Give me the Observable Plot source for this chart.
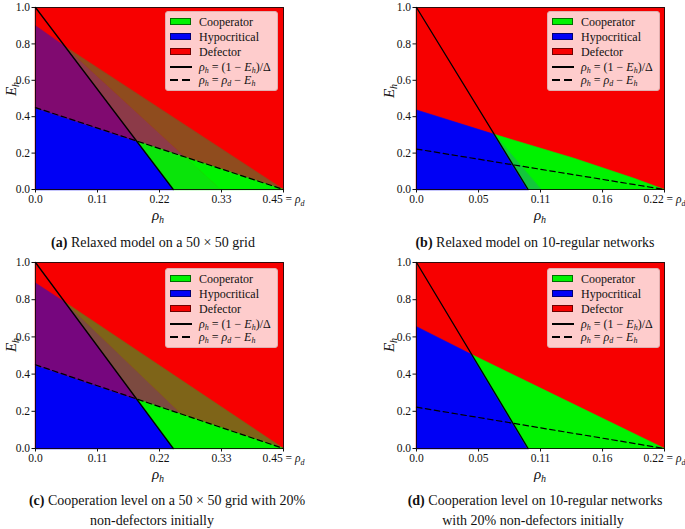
<!DOCTYPE html>
<html><head><meta charset="utf-8">
<script src="https://cdn.jsdelivr.net/npm/d3@7"></script>
<script src="https://cdn.jsdelivr.net/npm/@observablehq/plot@0.6"></script>
<style>
body{margin:0;background:#fff;font-family:"Liberation Serif","Times New Roman","DejaVu Serif",serif;color:#111}
#fig{position:relative;width:685px;height:529px;overflow:hidden;background:#fff;font-family:"Liberation Serif","Times New Roman","DejaVu Serif",serif}
.panel{position:absolute}
.ov{position:absolute;transform:translate(-50%,-50%);white-space:nowrap}
.axl{font-size:15px}
.axl sub{font-size:10px;vertical-align:-3px;line-height:0}
.legend{position:absolute;background:rgba(255,255,255,0.8);border:1px solid #e0b0b0;border-radius:3px;font-size:12px;box-sizing:border-box}
.row{position:absolute;left:0;height:14px;line-height:14px;width:100%}
.sw{position:absolute;left:4px;top:3.5px;width:21px;height:7px;box-sizing:border-box;border:1px solid rgba(0,0,0,0.55)}
.ln{position:absolute;left:4px;top:6px;width:22px;height:2px;background:#000}
.ln.d{background:repeating-linear-gradient(90deg,#000 0 8px,transparent 8px 12px)}
.lt{position:absolute;left:33px;top:0}
.lt sub{font-size:8px;vertical-align:-2px;line-height:0}
.cap{font-size:14px}
</style></head>
<body><div id="fig"></div>
<script>
// colours
const RED = "#f70000", BLUE = "#0000f5", GREEN = "#00f200";
const SERIF = "'Liberation Serif', 'Times New Roman', 'DejaVu Serif', serif";

// axis ticks
const yTicks = [0, 0.2, 0.4, 0.6, 0.8, 1.0];
const yTickLabels = ["0.0", "0.2", "0.4", "0.6", "0.8", "1.0"];
const xTicksGrid = [0, 0.1125, 0.225, 0.3375, 0.45];
const xTickLabelsGrid = ["0.0", "0.11", "0.22", "0.33", "0.45 ="];
const xTicksReg = [0, 0.0556, 0.1111, 0.1667, 0.2222];
const xTickLabelsReg = ["0.0", "0.05", "0.11", "0.16", "0.22 ="];

// reference lines  [rho_h, E_h]
const solidGrid = [[0, 1], [0.25, 0]];
const dashedGrid = [[0, 0.45], [0.45, 0]];
const solidReg = [[0, 1], [0.1, 0]];
const dashedReg = [[0, 0.2222], [0.2222, 0]];

// panel (a) regions
const aDefector = [[0, 0], [0.45, 0], [0.45, 1], [0, 1]];
const aBlue = [[0, 0], [0, 0.45], [0.1833, 0.2667], [0.25, 0]];
const aPurple = [[0, 0.45], [0, 0.9], [0.054, 0.785], [0.1833, 0.2667]];
const aMauve = [[0.054, 0.785], [0.1833, 0.2667], [0.2717, 0.1783]];
const aBrown = [[0.054, 0.785], [0.2717, 0.1783], [0.45, 0]];
const aGreenDark = [[0.25, 0], [0.1833, 0.2667], [0.2717, 0.1783], [0.336, 0]];
const aGreenLight = [[0.336, 0], [0.2717, 0.1783], [0.45, 0]];

// panel (b) regions
const bDefector = [[0, 0], [0.2222, 0], [0.2222, 1], [0, 1]];
const bBlue = [[0, 0], [0, 0.437], [0.0697, 0.303], [0.1, 0]];
const bGreen = [[0.0697, 0.303], [0.141, 0.172], [0.1947, 0.062], [0.2222, 0], [0.1, 0]];
const bGreenDark = [[0.0697, 0.303], [0.1, 0], [0.1115, 0]];

// panel (c) regions
const cDefector = [[0, 0], [0.45, 0], [0.45, 1], [0, 1]];
const cBlue = [[0, 0], [0, 0.45], [0.1833, 0.2667], [0.25, 0]];
const cPurple = [[0, 0.45], [0, 0.89], [0.054, 0.785], [0.1833, 0.2667]];
const cDarkBrown = [[0.054, 0.785], [0.1833, 0.2667], [0.265, 0.185]];
const cOlive = [[0.054, 0.785], [0.265, 0.185], [0.45, 0]];
const cGreen = [[0.25, 0], [0.1833, 0.2667], [0.45, 0]];

// panel (d) regions
const dDefector = [[0, 0], [0.2222, 0], [0.2222, 1], [0, 1]];
const dBlue = [[0, 0], [0, 0.655], [0.0495, 0.505], [0.1, 0]];
const dGreen = [[0.0495, 0.505], [0.2222, 0], [0.1, 0]];

const captions = {
  a: ["<b>(a)</b> Relaxed model on a 50 × 50 grid"],
  b: ["<b>(b)</b> Relaxed model on 10-regular networks"],
  c: ["<b>(c)</b> Cooperation level on a 50 × 50 grid with 20%", "non-defectors initially"],
  d: ["<b>(d)</b> Cooperation level on 10-regular networks", "with 20% non-defectors initially"]
};

const fig = document.getElementById("fig");

function makePanel(p) {
  const marks = p.regions.map(r => Plot.line(r[0], {
    x: d => d[0], y: d => d[1], fill: r[1], stroke: r[1], strokeWidth: 0.6, curve: "linear-closed"
  }));
  marks.push(Plot.line(p.solid, {x: d => d[0], y: d => d[1], stroke: "black", strokeWidth: 1.3}));
  marks.push(Plot.line(p.dashed, {x: d => d[0], y: d => d[1], stroke: "black", strokeWidth: 1.2, strokeDasharray: "5.5,3.5"}));
  marks.push(Plot.frame({stroke: "black", strokeWidth: 0.8}));
  marks.push(Plot.axisX({ticks: p.xTicks, tickFormat: d => p.xLabels[p.xTicks.indexOf(d)], tickSize: 3.5, tickPadding: 1.5, label: null, fontFamily: SERIF}));
  marks.push(Plot.axisY({ticks: yTicks, tickFormat: d => yTickLabels[yTicks.indexOf(d)], tickSize: 3.5, tickPadding: 2, label: null, fontFamily: SERIF}));
  const svg = Plot.plot({
    width: p.width, height: 230,
    marginLeft: p.ml, marginRight: p.mr, marginTop: p.mt, marginBottom: p.mb,
    x: {domain: p.xDomain}, y: {domain: [0, 1]},
    style: {fontFamily: SERIF, fontSize: "11.5px", background: "transparent", color: "#111", overflow: "visible"},
    marks
  });
  d3.select(svg).selectAll('g[aria-label="x-axis tick label"] text').each(function () {
    if (this.textContent.trim().endsWith("=")) {
      const t = this.textContent.trim();
      this.textContent = t + " ";
      d3.select(this).append("tspan").attr("font-style", "italic").text("ρ");
      d3.select(this).append("tspan").attr("font-style", "italic").attr("font-size", "8px").attr("dy", "3").text("d");
    }
  });
  const div = document.createElement("div");
  div.className = "panel";
  div.style.left = p.left + "px";
  div.style.top = p.top + "px";
  div.appendChild(svg);
  fig.appendChild(div);

  // axis labels
  const yl = document.createElement("div");
  yl.className = "ov axl";
  yl.style.left = p.ylab[0] + "px"; yl.style.top = p.ylab[1] + "px";
  yl.style.transform = "translate(-50%,-50%) rotate(-90deg)";
  yl.innerHTML = "<i>E</i><sub><i>h</i></sub>";
  fig.appendChild(yl);
  const xl = document.createElement("div");
  xl.className = "ov axl";
  xl.style.left = p.xlab[0] + "px"; xl.style.top = p.xlab[1] + "px";
  xl.innerHTML = "<i>ρ</i><sub><i>h</i></sub>";
  fig.appendChild(xl);

  // legend
  const lg = document.createElement("div");
  lg.className = "legend";
  lg.style.left = p.leg[0] + "px"; lg.style.top = p.leg[1] + "px";
  lg.style.width = "113px"; lg.style.height = "80px";
  const rows = [
    [`<div class="sw" style="background:${GREEN}"></div>`, "Cooperator"],
    [`<div class="sw" style="background:${BLUE}"></div>`, "Hypocritical"],
    [`<div class="sw" style="background:${RED}"></div>`, "Defector"],
    [`<div class="ln"></div>`, "<i>ρ</i><sub><i>h</i></sub> = (1 − <i>E</i><sub><i>h</i></sub>)/Δ"],
    [`<div class="ln d"></div>`, "<i>ρ</i><sub><i>h</i></sub> = <i>ρ</i><sub><i>d</i></sub> − <i>E</i><sub><i>h</i></sub>"]
  ];
  const rowTops = [2.5, 17.5, 32.5, 47.5, 61];
  rows.forEach((r, i) => {
    const rw = document.createElement("div");
    rw.className = "row";
    rw.style.top = rowTops[i] + "px";
    rw.innerHTML = r[0] + `<div class="lt">${r[1]}</div>`;
    lg.appendChild(rw);
  });
  fig.appendChild(lg);

  // caption
  p.cap.forEach((line, i) => {
    const c = document.createElement("div");
    c.className = "ov cap";
    c.style.left = p.capPos[i][0] + "px"; c.style.top = p.capPos[i][1] + "px";
    c.innerHTML = line;
    fig.appendChild(c);
  });
}

makePanel({
  left: 0, top: 0, width: 340, ml: 35, mr: 57, mt: 7, mb: 41,
  xDomain: [0, 0.45], xTicks: xTicksGrid, xLabels: xTickLabelsGrid,
  regions: [[aDefector, RED], [aBlue, BLUE], [aPurple, "#800a70"], [aMauve, "#8c3a48"], [aBrown, "#8f4c1e"], [aGreenDark, "#0ae40a"], [aGreenLight, GREEN]],
  solid: solidGrid, dashed: dashedGrid,
  ylab: [11, 89], xlab: [158, 215], leg: [165, 11],
  cap: captions.a, capPos: [[153, 243]]
});
makePanel({
  left: 340, top: 0, width: 345, ml: 76, mr: 21, mt: 7, mb: 41,
  xDomain: [0, 0.2222], xTicks: xTicksReg, xLabels: xTickLabelsReg,
  regions: [[bDefector, RED], [bBlue, BLUE], [bGreen, GREEN], [bGreenDark, "#14c63c"]],
  solid: solidReg, dashed: dashedReg,
  ylab: [389, 91], xlab: [540, 215], leg: [547, 11],
  cap: captions.b, capPos: [[535, 243]]
});
makePanel({
  left: 0, top: 255, width: 340, ml: 35, mr: 57, mt: 7, mb: 37,
  xDomain: [0, 0.45], xTicks: xTicksGrid, xLabels: xTickLabelsGrid,
  regions: [[cDefector, RED], [cBlue, BLUE], [cPurple, "#76067e"], [cDarkBrown, "#7c4a40"], [cOlive, "#7e6418"], [cGreen, GREEN]],
  solid: solidGrid, dashed: dashedGrid,
  ylab: [11, 345], xlab: [158, 474], leg: [165, 268],
  cap: captions.c, capPos: [[167, 501], [152, 521]]
});
makePanel({
  left: 340, top: 255, width: 345, ml: 76, mr: 21, mt: 7, mb: 37,
  xDomain: [0, 0.2222], xTicks: xTicksReg, xLabels: xTickLabelsReg,
  regions: [[dDefector, RED], [dBlue, BLUE], [dGreen, GREEN]],
  solid: solidReg, dashed: dashedReg,
  ylab: [389, 345], xlab: [540, 474], leg: [547, 268],
  cap: captions.d, capPos: [[535, 501], [533, 521]]
});
</script>
</body></html>
